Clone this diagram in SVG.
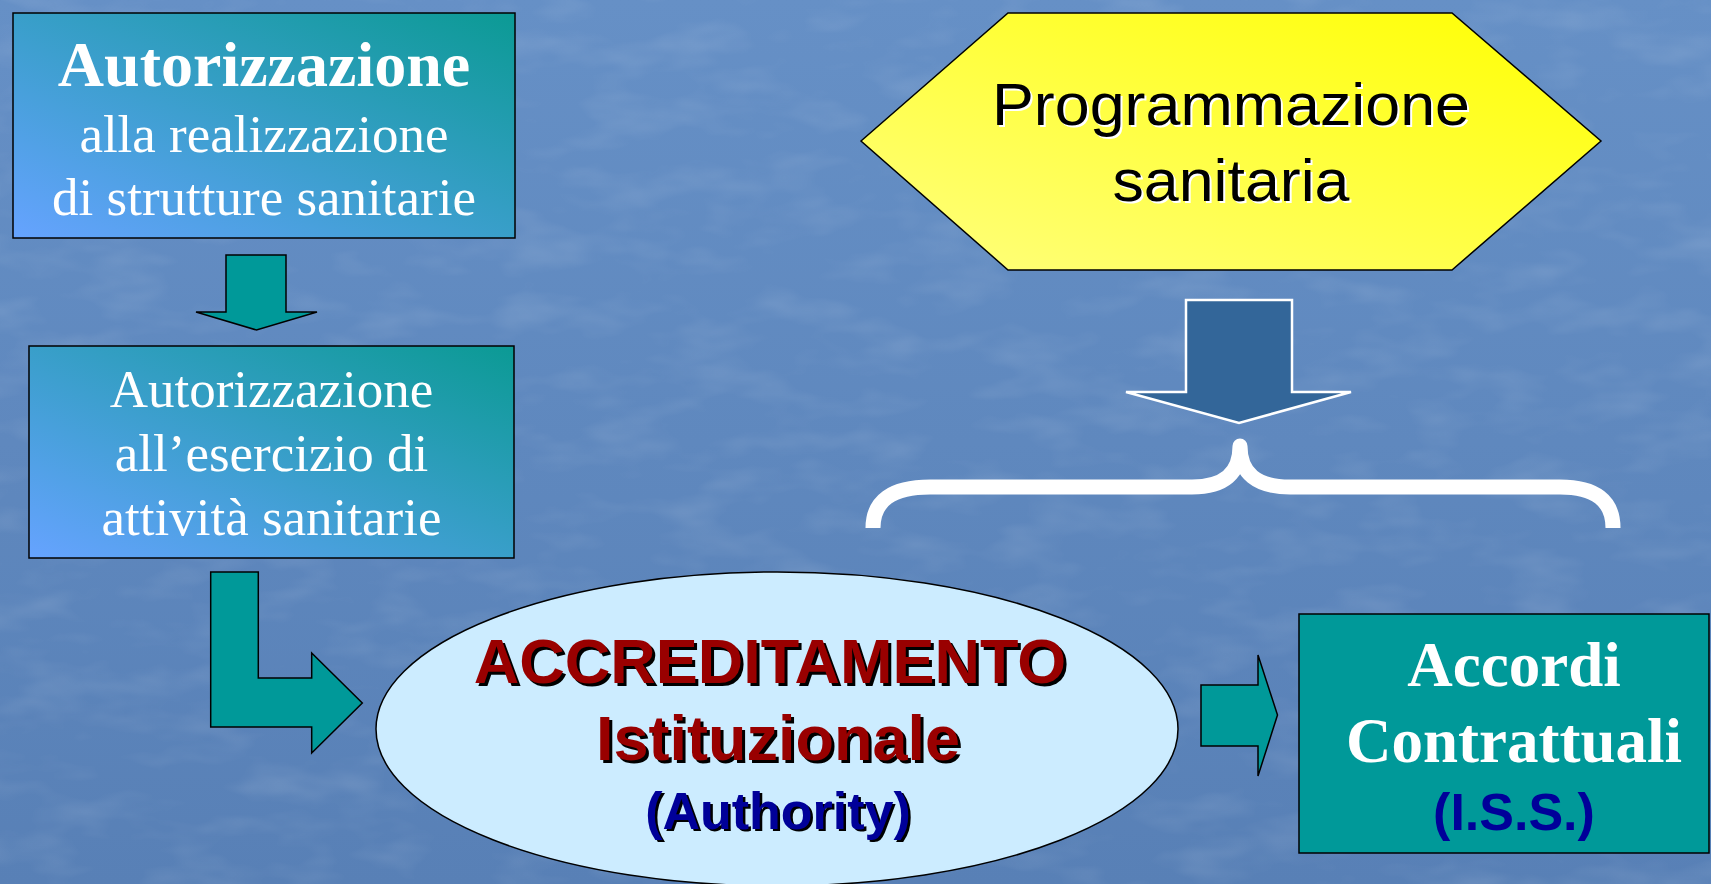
<svg xmlns="http://www.w3.org/2000/svg" width="1711" height="884" viewBox="0 0 1711 884">
  <defs>
    <linearGradient id="bg" x1="0" y1="0" x2="0" y2="1">
      <stop offset="0" stop-color="#6690c6"/>
      <stop offset="1" stop-color="#5880b6"/>
    </linearGradient>
    <linearGradient id="boxGrad" x1="0" y1="1" x2="1" y2="0">
      <stop offset="0" stop-color="#66a3ff"/>
      <stop offset="1" stop-color="#0b9a94"/>
    </linearGradient>
    <linearGradient id="hexGrad" x1="0" y1="1" x2="1" y2="0">
      <stop offset="0" stop-color="#ffff80"/>
      <stop offset="1" stop-color="#ffff00"/>
    </linearGradient>
    <filter id="noise" x="0" y="0" width="100%" height="100%">
      <feTurbulence type="fractalNoise" baseFrequency="0.012 0.03" numOctaves="3" seed="7"/>
      <feColorMatrix type="matrix" values="0 0 0 0 1  0 0 0 0 1  0 0 0 0 1  0 0 0 1.2 -0.55"/>
    </filter>
    <style>
      .teal { fill: #009999; stroke: #000; stroke-width: 1.5; stroke-linejoin: miter; }
      .box { stroke: #000; stroke-width: 1.5; }
      .serif { font-family: "Liberation Serif", "Times New Roman", serif; fill: #fff; text-anchor: middle; }
      .sans { font-family: "Liberation Sans", Arial, sans-serif; text-anchor: middle; font-weight: bold; }
      .red { fill: #990000; }
      .navy { fill: #000099; }
      .shadow { fill: #000; }
    </style>
  </defs>

  <rect width="1711" height="884" fill="url(#bg)"/>
  <rect width="1711" height="884" filter="url(#noise)" opacity="0.18"/>

  <g id="connectors">
    <path id="arrow-down-1" class="teal" d="M226 255 H286 V312 H317 L256.5 330 L196 312 H226 Z"/>
    <path id="arrow-L" class="teal" d="M210.7 572 H258.3 V678 H311.7 V653 L362.3 703 L311.7 753 V727 H210.7 Z"/>
    <path id="arrow-right" class="teal" d="M1201 685 H1258 V655 L1277.5 715 L1258 776 V746 H1201 Z"/>
    <path id="arrow-blue" d="M1186 300 H1292 V392 H1351 L1239 423 L1126 392 H1186 Z" fill="#336699" stroke="#fff" stroke-width="2.5"/>
    <path id="brace" d="M873 528 Q873 487 930 487 L1192 487 Q1240 487 1240 446 Q1240 487 1290 487 L1560 487 Q1613 487 1613 528" fill="none" stroke="#fff" stroke-width="15" stroke-linejoin="round"/>
  </g>

  <g id="node-autorizzazione-realizzazione">
    <rect class="box" x="13" y="13" width="502" height="225" fill="url(#boxGrad)"/>
    <text class="serif" x="264" y="86" font-size="64" font-weight="bold">Autorizzazione</text>
    <text class="serif" x="264" y="152" font-size="53">alla realizzazione</text>
    <text class="serif" x="264" y="215" font-size="53">di strutture sanitarie</text>
  </g>

  <g id="node-autorizzazione-esercizio">
    <rect class="box" x="29" y="346" width="485" height="212" fill="url(#boxGrad)"/>
    <text class="serif" x="271.5" y="407" font-size="53">Autorizzazione</text>
    <text class="serif" x="271.5" y="471" font-size="53">all’esercizio di</text>
    <text class="serif" x="271.5" y="535" font-size="53">attività sanitarie</text>
  </g>

  <g id="node-programmazione">
    <polygon points="861,141 1008,13 1452,13 1601,141 1452,270 1008,270" fill="url(#hexGrad)" stroke="#000" stroke-width="1.5"/>
    <g font-family="'Liberation Sans', Arial, sans-serif" font-size="60" text-anchor="middle">
      <text x="1233" y="127" fill="#fff" textLength="478" lengthAdjust="spacingAndGlyphs">Programmazione</text>
      <text x="1231" y="125" fill="#000" textLength="478" lengthAdjust="spacingAndGlyphs">Programmazione</text>
      <text x="1233" y="203" fill="#fff" textLength="237" lengthAdjust="spacingAndGlyphs">sanitaria</text>
      <text x="1231" y="201" fill="#000" textLength="237" lengthAdjust="spacingAndGlyphs">sanitaria</text>
    </g>
  </g>

  <g id="node-accreditamento">
    <ellipse cx="777" cy="729" rx="401" ry="157" fill="#ccecff" stroke="#000" stroke-width="1.5"/>
    <text class="sans shadow" x="773" y="686" font-size="63">ACCREDITAMENTO</text>
    <text class="sans red" x="770" y="683" font-size="63">ACCREDITAMENTO</text>
    <text class="sans shadow" x="781" y="763" font-size="63">Istituzionale</text>
    <text class="sans red" x="778" y="760" font-size="63">Istituzionale</text>
    <text class="sans shadow" x="780.5" y="831" font-size="52">(Authority)</text>
    <text class="sans navy" x="778" y="829" font-size="52">(Authority)</text>
  </g>

  <g id="node-accordi">
    <rect class="box" x="1299" y="614" width="410" height="239" fill="#009999"/>
    <text class="serif" x="1514" y="686" font-size="63" font-weight="bold">Accordi</text>
    <text class="serif" x="1514" y="762" font-size="63" font-weight="bold">Contrattuali</text>
    <text class="sans navy" x="1514" y="830" font-size="52">(I.S.S.)</text>
  </g>
</svg>
